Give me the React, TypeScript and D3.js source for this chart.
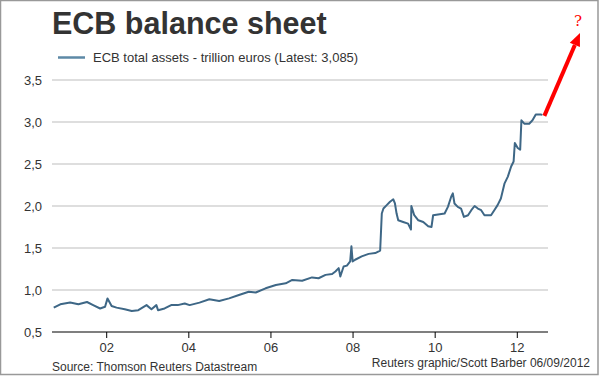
import React from "react";
import * as d3 from "d3";

const years: number[] = [
  2000.71, 2000.87, 2001.11, 2001.31, 2001.52, 2001.67, 2001.84, 2001.96, 2002.02, 2002.12,
  2002.24, 2002.44, 2002.61, 2002.77, 2002.97, 2003.09, 2003.21, 2003.25, 2003.41, 2003.57,
  2003.73, 2003.9, 2004.02, 2004.26, 2004.5, 2004.74, 2004.98, 2005.22, 2005.46, 2005.63,
  2005.87, 2006.12, 2006.36, 2006.52, 2006.76, 2007.0, 2007.16, 2007.33, 2007.49, 2007.57,
  2007.65, 2007.69, 2007.77, 2007.85, 2007.93, 2007.96, 2007.99, 2008.05, 2008.21, 2008.38,
  2008.54, 2008.66, 2008.7, 2008.74, 2008.82, 2008.9, 2008.98, 2009.02, 2009.06, 2009.1,
  2009.22, 2009.34, 2009.41, 2009.42, 2009.49, 2009.59, 2009.71, 2009.83, 2009.91, 2009.95,
  2010.07, 2010.23, 2010.31, 2010.39, 2010.43, 2010.47, 2010.55, 2010.63, 2010.7, 2010.8,
  2010.88, 2010.96, 2011.04, 2011.12, 2011.2, 2011.36, 2011.44, 2011.52, 2011.6, 2011.69,
  2011.77, 2011.85, 2011.91, 2011.94, 2012.01, 2012.07, 2012.1, 2012.17, 2012.29, 2012.37,
  2012.45, 2012.57, 2012.61,
];
const assets: number[] = [
  0.79, 0.83, 0.85, 0.83, 0.857, 0.82, 0.78, 0.8, 0.9, 0.81,
  0.79, 0.77, 0.75, 0.76, 0.82, 0.77, 0.82, 0.76, 0.78, 0.82,
  0.82, 0.84, 0.82, 0.85, 0.89, 0.87, 0.9, 0.94, 0.98, 0.97,
  1.02, 1.06, 1.08, 1.12, 1.11, 1.15, 1.14, 1.18, 1.19, 1.22,
  1.26, 1.16, 1.28, 1.29, 1.34, 1.52, 1.34, 1.36, 1.4, 1.43,
  1.44, 1.47, 1.91, 1.97, 2.01, 2.05, 2.08, 2.03, 1.91, 1.83,
  1.81, 1.79, 1.72, 2.0, 1.89, 1.83, 1.81, 1.76, 1.75, 1.89,
  1.9, 1.91, 1.99, 2.11, 2.15, 2.03, 1.99, 1.97, 1.87, 1.89,
  1.95, 2.0, 1.97, 1.95, 1.89, 1.89, 1.95, 2.01, 2.09, 2.27,
  2.35, 2.47, 2.53, 2.75, 2.69, 2.67, 3.02, 2.98, 2.98, 3.02,
  3.09, 3.09, 3.085,
];
const yTicks: number[] = [0.5, 1.0, 1.5, 2.0, 2.5, 3.0, 3.5];
const xTicks: number[] = [2002, 2004, 2006, 2008, 2010, 2012];
const xTickLabels: string[] = ["02", "04", "06", "08", "10", "12"];

const title = "ECB balance sheet";
const legendLabel = "ECB total assets - trillion euros (Latest: 3,085)";
const sourceText = "Source: Thomson Reuters Datastream";
const creditText = "Reuters graphic/Scott Barber 06/09/2012";

export default function App() {
  const W = 600, H = 376;
  const left = 52, right = 548, top = 80, bottom = 332;
  const x = d3.scaleLinear().domain([2002, 2012]).range([106.7, 517.3]);
  const y = d3.scaleLinear().domain([0.5, 3.5]).range([bottom, top]);
  const pts = years.map((yr, i) => [yr, assets[i]] as [number, number]);
  const line = d3.line<[number, number]>().x(d => x(d[0])).y(d => y(d[1]));
  const font = "'Liberation Sans', Arial, sans-serif";
  const fmt = (v: number) => d3.format(".1f")(v).replace(".", ",");
  const last = pts[pts.length - 1];
  const ax0 = x(last[0]) + 2, ay0 = y(last[1]) + 1;
  const ax1 = 580, ay1 = 33;
  const ang = Math.atan2(ay1 - ay0, ax1 - ax0);
  const hl = 13, hw = 5.5;
  const bx = ax1 - hl * Math.cos(ang), by = ay1 - hl * Math.sin(ang);
  const head = [
    [ax1, ay1],
    [bx + hw * Math.sin(ang), by - hw * Math.cos(ang)],
    [bx - hw * Math.sin(ang), by + hw * Math.cos(ang)],
  ];
  return (
    <svg width={W} height={H} style={{ position: "absolute", left: 0, top: 0, background: "#fff" }} fontFamily={font}>
      <rect x={0.5} y={0.5} width={597.5} height={374} fill="#fff" stroke="#999" strokeWidth={1.5} />
      <text x={52} y={33.5} fontSize={30.5} fontWeight="bold" fill="#333">{title}</text>
      <line x1={58} x2={85} y1={57.5} y2={57.5} stroke="#5d89a6" strokeWidth={2.5} />
      <text x={93} y={62} fontSize={13} fill="#333">{legendLabel}</text>
      {yTicks.map(t => (
        <g key={t}>
          {t > 0.5 && <line x1={left} x2={right} y1={y(t)} y2={y(t)} stroke="#bdbdbd" strokeWidth={1} />}
          <text x={42} y={y(t) + 5} textAnchor="end" fontSize={13} fill="#333">{fmt(t)}</text>
        </g>
      ))}
      <path d={line(pts) || ""} fill="none" stroke="#3e6786" strokeWidth={2} strokeLinejoin="round" />
      <line x1={left} x2={right} y1={bottom} y2={bottom} stroke="#000" strokeWidth={1.2} />
      {xTicks.map((t, i) => (
        <g key={t}>
          <line x1={x(t)} x2={x(t)} y1={bottom} y2={bottom + 6} stroke="#000" strokeWidth={1} />
          <text x={x(t)} y={352} textAnchor="middle" fontSize={13} fill="#333">{xTickLabels[i]}</text>
        </g>
      ))}
      <text x={52} y={371} fontSize={12} fill="#333">{sourceText}</text>
      <text x={590} y={367} textAnchor="end" fontSize={12} fill="#333">{creditText}</text>
      <line x1={ax0} y1={ay0} x2={bx} y2={by} stroke="#f00" strokeWidth={4} />
      <polygon points={head.map(p => p.join(",")).join(" ")} fill="#f00" />
      <text x={578} y={26} textAnchor="middle" fontSize={15} fill="#f00" fontFamily="'DejaVu Serif', serif">?</text>
    </svg>
  );
}
